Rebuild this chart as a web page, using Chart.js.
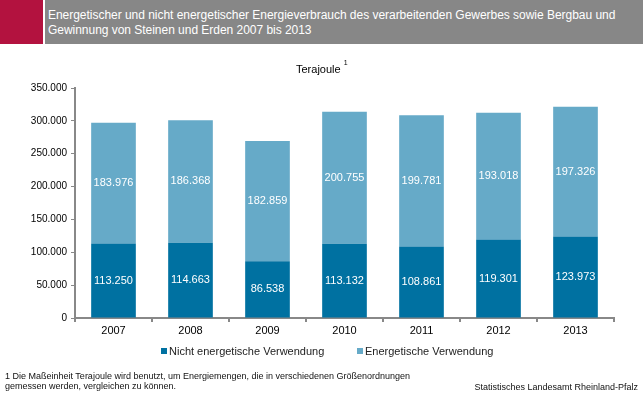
<!DOCTYPE html>
<html><head><meta charset="utf-8">
<script src="https://cdn.jsdelivr.net/npm/chart.js@4"></script>
<style>
html,body{margin:0;padding:0;background:#fff;width:643px;height:397px;overflow:hidden;font-family:"Liberation Sans",Arial,sans-serif;}
#hdrRed{position:absolute;left:0;top:0;width:43px;height:44px;background:#B3123F;}
#hdrGrey{position:absolute;left:45px;top:0;width:598px;height:44px;background:#878787;}
#title{position:absolute;left:48px;top:8px;color:#fff;font-size:12px;line-height:15px;white-space:nowrap;letter-spacing:-0.03px;}
#unit{position:absolute;left:296px;top:62px;font-size:11px;color:#000;}
#unit sup{font-size:7px;position:relative;top:-3px;margin-left:3px;}
#wrap{position:absolute;left:0;top:0;width:643px;height:397px;}
#legend{position:absolute;top:345px;left:0;width:643px;font-size:11px;color:#222;}
.li{position:absolute;white-space:nowrap;}
.sw{display:inline-block;width:6px;height:6px;margin-right:2px;vertical-align:1px;}
#foot{position:absolute;left:5px;top:371px;font-size:9px;line-height:10px;color:#111;}
#src{position:absolute;right:5px;top:382px;font-size:9px;color:#111;}
</style></head>
<body>
<div id="wrap"><canvas id="c" width="643" height="397"></canvas></div>
<div id="hdrRed"></div><div id="hdrGrey"></div>
<div id="title">Energetischer und nicht energetischer Energieverbrauch des verarbeitenden Gewerbes sowie Bergbau und<br>Gewinnung von Steinen und Erden 2007 bis 2013</div>
<div id="unit">Terajoule<sup>1</sup></div>
<div id="legend"></div>
<div id="foot">1 Die Maßeinheit Terajoule wird benutzt, um Energiemengen, die in verschiedenen Größenordnungen<br>gemessen werden, vergleichen zu können.</div>
<div id="src">Statistisches Landesamt Rheinland-Pfalz</div>
<script>
const years = ['2007','2008','2009','2010','2011','2012','2013'];
const nichtEnergetisch = [113250,114663,86538,113132,108861,119301,123973];
const energetisch = [183976,186368,182859,200755,199781,193018,197326];
const seriesNames = ['Nicht energetische Verwendung','Energetische Verwendung'];
const seriesColors = ['#0071A1','#66AAC8'];
const yTicks = [0,50000,100000,150000,200000,250000,300000,350000];

function fmt(v){return String(v).replace(/\B(?=(\d{3})+(?!\d))/g,'.');}

// legend
const lg=document.getElementById('legend');
const lx=[161,357];
seriesNames.forEach((n,i)=>{
  const d=document.createElement('div');d.className='li';d.style.left=lx[i]+'px';
  d.innerHTML='<span class="sw" style="background:'+seriesColors[i]+'"></span>'+n;
  lg.appendChild(d);
});

const labelPlugin={id:'lbl',afterDatasetsDraw(chart){
  const ctx=chart.ctx;ctx.save();
  ctx.font='11px "Liberation Sans", Arial, sans-serif';
  ctx.fillStyle='#fff';ctx.textAlign='center';ctx.textBaseline='middle';
  chart.data.datasets.forEach((ds,i)=>{
    const meta=chart.getDatasetMeta(i);
    meta.data.forEach((el,j)=>{
      const p=el.getProps(['x','y','base'],true);
      ctx.fillText(fmt(ds.data[j]),p.x,(p.y+p.base)/2);
    });
  });
  ctx.restore();
}};

new Chart(document.getElementById('c'),{
  type:'bar',
  data:{labels:years,datasets:[
    {label:seriesNames[0],data:nichtEnergetisch,backgroundColor:seriesColors[0],barPercentage:0.58,categoryPercentage:1},
    {label:seriesNames[1],data:energetisch,backgroundColor:seriesColors[1],barPercentage:0.58,categoryPercentage:1}
  ]},
  options:{
    responsive:false,animation:false,
    layout:{padding:{top:88,right:29,left:0,bottom:0}},
    plugins:{legend:{display:false},tooltip:{enabled:false}},
    scales:{
      x:{stacked:true,
        afterFit(s){s.height=79;},
        grid:{offset:true,drawOnChartArea:false,drawTicks:true,tickLength:4,color:'#888',lineWidth:2},
        border:{color:'#888',width:2},
        ticks:{color:'#000',font:{size:11,family:'"Liberation Sans", Arial, sans-serif'},padding:2}
      },
      y:{stacked:true,min:0,max:350000,
        afterFit(s){s.width=75;},
        afterBuildTicks(s){s.ticks=yTicks.map(v=>({value:v}));},
        grid:{drawOnChartArea:false,drawTicks:true,tickLength:4,color:'#888',lineWidth:1},
        border:{color:'#888',width:2},
        ticks:{color:'#000',font:{size:10,family:'"Liberation Sans", Arial, sans-serif'},padding:4,callback:v=>fmt(v)}
      }
    }
  },
  plugins:[labelPlugin]
});
</script>
</body></html>
